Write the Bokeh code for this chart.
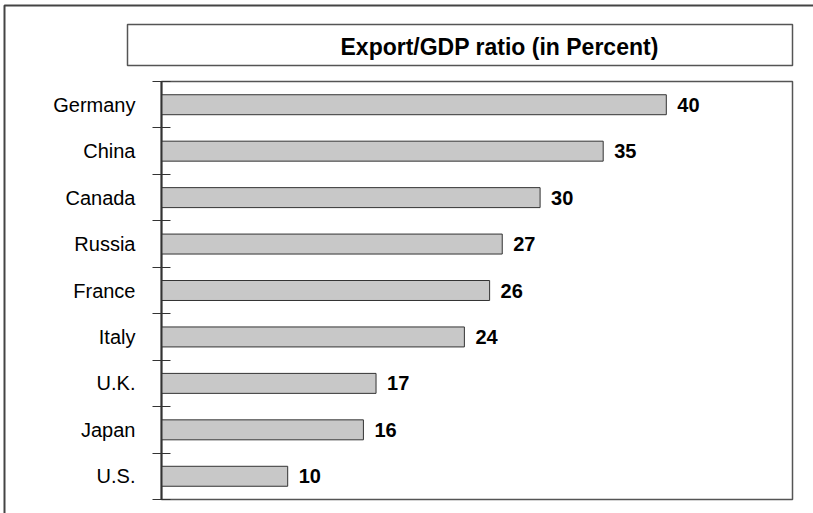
import numpy as np
from bokeh.plotting import figure
from bokeh.models import Range1d, FixedTicker, BoxAnnotation, Label, ColumnDataSource, LinearAxis
from bokeh.core.properties import value
from bokeh.embed import file_html
from bokeh.resources import INLINE

countries = ["Germany", "China", "Canada", "Russia", "France", "Italy", "U.K.", "Japan", "U.S."]
ratios = [40, 35, 30, 27, 26, 24, 17, 16, 10]
title_text = "Export/GDP ratio (in Percent)"

FONT = "Liberation Sans"
W, H = 813, 513
# layout (pixels) of the plotting box
X0PX, X1PX, XMAX = 161, 792, 50
Y0PX, Y1PX = 81, 499
N = len(countries)

sx = (X1PX - X0PX) / XMAX
sy = (Y1PX - Y0PX) / N


def px2x(px):
    return (px - X0PX) / sx


def px2y(py):
    return (py - Y0PX) / sy


pos = np.arange(N) + 0.5
src = ColumnDataSource(dict(y=pos, v=ratios, lab=[str(r) for r in ratios]))

p = figure(width=W, height=H, output_backend="svg", toolbar_location=None,
           x_range=Range1d(px2x(0), px2x(W)), y_range=Range1d(px2y(H), px2y(0)),
           x_axis_location=None, y_axis_location=None,
           min_border=0, min_border_left=0, min_border_right=0,
           min_border_top=0, min_border_bottom=0)
p.grid.visible = False
p.background_fill_color = "white"
p.border_fill_color = "white"
p.outline_line_color = None

# plotting box (top, right, bottom)
p.add_layout(BoxAnnotation(left=0, right=XMAX, top=0, bottom=N,
                           fill_color=None, fill_alpha=0,
                           line_color="#555555", line_alpha=1, line_width=1.5, level="underlay"))

ax = LinearAxis(fixed_location=0, bounds=(0, N))
ax.ticker = FixedTicker(ticks=list(pos), minor_ticks=list(range(N + 1)))
ax.major_label_overrides = {float(y): c for y, c in zip(pos, countries)}
ax.major_tick_line_color = None
ax.major_tick_in = 0
ax.major_tick_out = 0
ax.minor_tick_in = 9
ax.minor_tick_out = 9
ax.minor_tick_line_color = "#333333"
ax.minor_tick_line_width = 1.2
ax.axis_line_color = "#333333"
ax.axis_line_width = 2
ax.major_label_standoff = 17
ax.major_label_text_font = FONT
ax.major_label_text_font_size = "20px"
ax.major_label_text_color = "black"
p.add_layout(ax, "left")

p.hbar(y="y", right="v", left=0, height=0.43, source=src,
       fill_color="#C8C8C8", line_color="#333333", line_width=1)
p.text(x="v", y="y", text="lab", source=src, x_offset=11, text_baseline="middle",
       text_font=value(FONT), text_font_style="bold", text_font_size="20px", text_color="black")

# outer border and title box
p.add_layout(BoxAnnotation(left=px2x(4), right=px2x(W + 20), top=px2y(5), bottom=px2y(H + 20),
                           fill_color=None, fill_alpha=0,
                           line_color="#444444", line_alpha=1, line_width=2))
p.add_layout(BoxAnnotation(left=px2x(127), right=px2x(792), top=px2y(24), bottom=px2y(65),
                           fill_color=None, fill_alpha=0,
                           line_color="#555555", line_alpha=1, line_width=1.5))
p.add_layout(Label(x=px2x(340), y=px2y(46), text=title_text,
                   text_font=FONT, text_font_style="bold", text_font_size="23px",
                   text_baseline="middle", text_color="black"))

open("out.html", "w").write(file_html(p, INLINE))
